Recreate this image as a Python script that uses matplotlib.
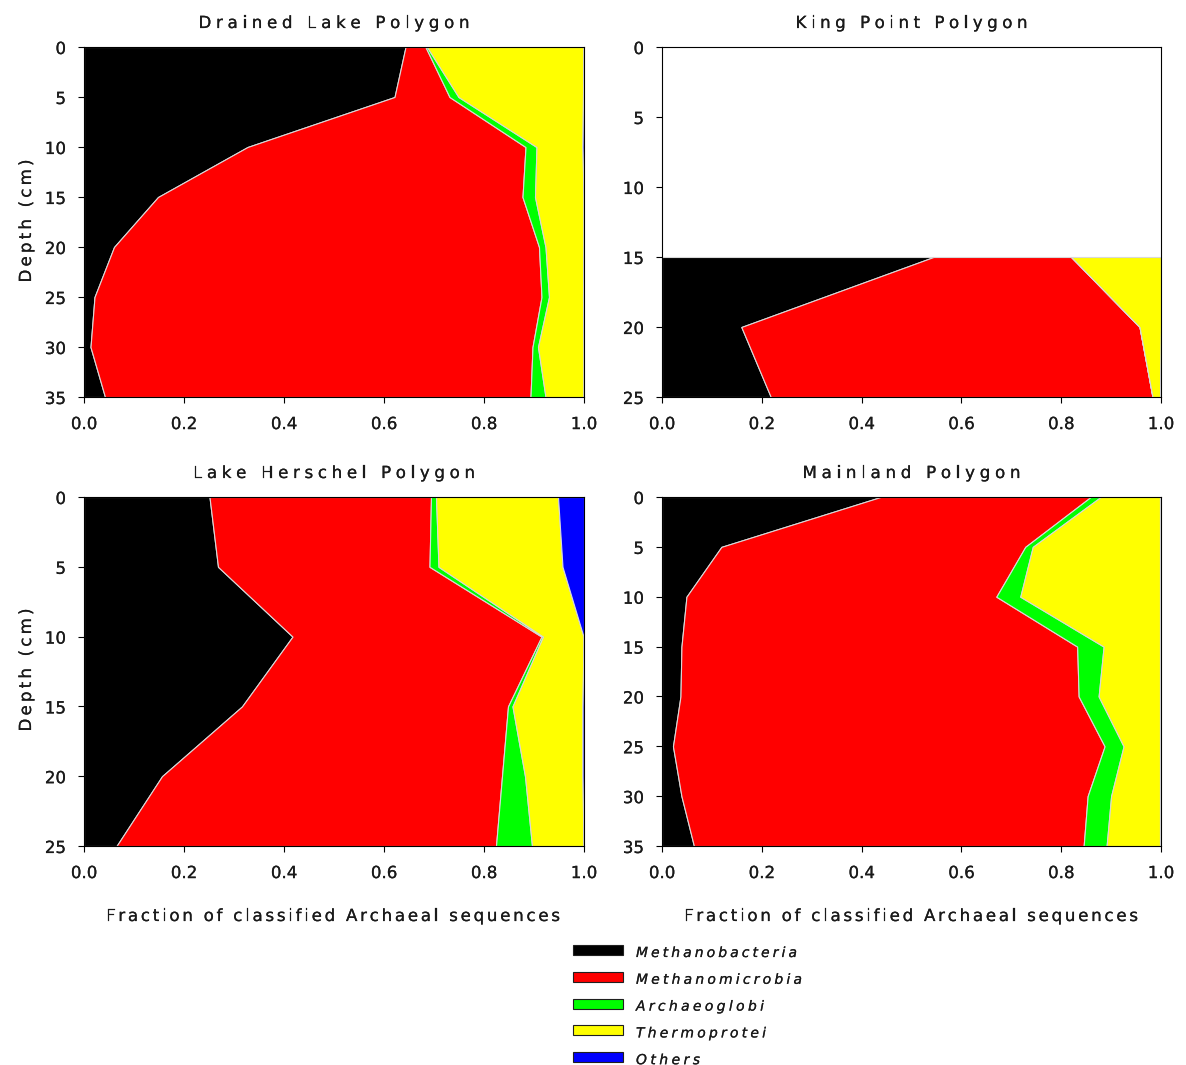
"""Archaeal class composition with depth for four polygon sites."""
import matplotlib
matplotlib.use('Agg')
import matplotlib.pyplot as plt
import matplotlib.patheffects as pe
from matplotlib.patches import Rectangle
from matplotlib.font_manager import FontProperties, findfont, get_font
import numpy as np

W, H, DPI = 1186, 1065, 100
FONT = 'DejaVu Sans'

classes = ['Methanobacteria', 'Methanomicrobia', 'Archaeoglobi', 'Thermoprotei', 'Others']
colors = ['#000000', '#FF0000', '#00FF00', '#FFFF00', '#0000FF']

# fractions per class at each sampled depth (cm)
drained_depth = [0, 5, 10, 15, 20, 25, 30, 35]
drained_methanobacteria = [0.643, 0.621, 0.327, 0.148, 0.060, 0.021, 0.013, 0.042]
drained_methanomicrobia = [0.040, 0.110, 0.556, 0.729, 0.850, 0.894, 0.884, 0.851]
drained_archaeoglobi = [0.003, 0.018, 0.022, 0.025, 0.013, 0.015, 0.011, 0.030]
drained_thermoprotei = [0.313, 0.249, 0.092, 0.097, 0.076, 0.068, 0.091, 0.076]
drained_others = [0.001, 0.002, 0.003, 0.001, 0.001, 0.002, 0.001, 0.001]

king_depth = [15, 20, 25]
king_methanobacteria = [0.544, 0.159, 0.218]
king_methanomicrobia = [0.276, 0.798, 0.765]
king_archaeoglobi = [0.000, 0.000, 0.000]
king_thermoprotei = [0.180, 0.043, 0.015]
king_others = [0.000, 0.000, 0.002]

herschel_depth = [0, 5, 10, 15, 20, 25]
herschel_methanobacteria = [0.251, 0.268, 0.417, 0.316, 0.156, 0.065]
herschel_methanomicrobia = [0.443, 0.423, 0.498, 0.532, 0.680, 0.759]
herschel_archaeoglobi = [0.010, 0.018, 0.003, 0.009, 0.046, 0.072]
herschel_thermoprotei = [0.244, 0.248, 0.081, 0.140, 0.115, 0.103]
herschel_others = [0.052, 0.043, 0.001, 0.003, 0.003, 0.001]

mainland_depth = [0, 5, 10, 15, 20, 25, 30, 35]
mainland_methanobacteria = [0.438, 0.119, 0.049, 0.039, 0.037, 0.022, 0.039, 0.064]
mainland_methanomicrobia = [0.421, 0.609, 0.621, 0.793, 0.798, 0.865, 0.814, 0.781]
mainland_archaeoglobi = [0.020, 0.015, 0.048, 0.053, 0.040, 0.038, 0.047, 0.046]
mainland_thermoprotei = [0.119, 0.255, 0.280, 0.113, 0.123, 0.073, 0.098, 0.107]
mainland_others = [0.002, 0.002, 0.002, 0.002, 0.002, 0.002, 0.002, 0.002]

panels = [
    ('Drained Lake Polygon', drained_depth,
     [drained_methanobacteria, drained_methanomicrobia, drained_archaeoglobi,
      drained_thermoprotei, drained_others], 35),
    ('King Point Polygon', king_depth,
     [king_methanobacteria, king_methanomicrobia, king_archaeoglobi,
      king_thermoprotei, king_others], 25),
    ('Lake Herschel Polygon', herschel_depth,
     [herschel_methanobacteria, herschel_methanomicrobia, herschel_archaeoglobi,
      herschel_thermoprotei, herschel_others], 25),
    ('Mainland Polygon', mainland_depth,
     [mainland_methanobacteria, mainland_methanomicrobia, mainland_archaeoglobi,
      mainland_thermoprotei, mainland_others], 35),
]

plt.rcParams['font.family'] = [FONT]

# slightly heavier glyphs
heavy = [pe.withStroke(linewidth=0.15, foreground='#1a1a1a')]

fig = plt.figure(figsize=(W / DPI, H / DPI), dpi=DPI)


def advances(s, prop):
    font = get_font(findfont(prop))
    font.set_size(prop.get_size_in_points(), DPI)
    return [font.load_char(ord(c)).linearHoriAdvance / 65536 for c in s]


def spaced_text(x, y, s, size, width, rotation=0, style='normal', align='center'):
    """Letter-spaced text; x, y in pixels from top-left (baseline), width = total span."""
    prop = FontProperties(family=FONT, size=size, style=style)
    adv = advances(s, prop)
    gap = (width - sum(adv)) / (len(s) - 1)
    pos = -width / 2 if align == 'center' else 0
    for c, a in zip(s, adv):
        if rotation == 0:
            fig.text((x + pos) / W, 1 - y / H, c, fontproperties=prop,
                     ha='left', va='baseline', color='#1a1a1a', path_effects=heavy)
        else:
            fig.text(x / W, 1 - (y - pos) / H, c, fontproperties=prop,
                     ha='left', va='baseline', rotation=90, rotation_mode='anchor',
                     color='#1a1a1a', path_effects=heavy)
        pos += a + gap


# axes boxes in pixels: left, top, right, bottom
boxes = [(84, 47, 584, 397), (662, 47, 1161, 397),
         (84, 497, 584, 846), (662, 497, 1161, 846)]
title_width = {'Drained Lake Polygon': 271, 'King Point Polygon': 232,
               'Lake Herschel Polygon': 282, 'Mainland Polygon': 218}

for (title, depth, fracs, dmax), (l, t, r, b) in zip(panels, boxes):
    ax = fig.add_axes([l / W, 1 - b / H, (r - l) / W, (b - t) / H])
    cum = np.zeros(len(depth))
    for vals, col in zip(fracs, colors):
        top = cum + np.array(vals)
        ax.fill_betweenx(depth, cum, top, facecolor=col, edgecolor='#d8d8d8',
                         linewidth=0.8)
        cum = top
    ax.set_xlim(0, 1)
    ax.set_ylim(dmax, 0)
    ax.set_xticks(np.arange(0, 1.01, 0.2))
    ax.set_xticklabels([f'{v:.1f}' for v in np.arange(0, 1.01, 0.2)])
    ax.set_yticks(np.arange(0, dmax + 1, 5))
    ax.tick_params(direction='out', length=4, width=0.8, pad=9, labelsize=12,
                   labelcolor='#1a1a1a', top=False, right=False)
    for lab in ax.get_xticklabels() + ax.get_yticklabels():
        lab.set_path_effects(heavy)
    for sp in ax.spines.values():
        sp.set_linewidth(0.8)
    spaced_text((l + r) / 2, t - 19, title, 12, title_width[title])

# axis labels
spaced_text(31, 221, 'Depth (cm)', 12, 123, rotation=90)
spaced_text(31, 670, 'Depth (cm)', 12, 123, rotation=90)
spaced_text(333, 921, 'Fraction of classified Archaeal sequences', 12, 454)
spaced_text(911, 921, 'Fraction of classified Archaeal sequences', 12, 454)

# legend
leg_width = {'Methanobacteria': 161, 'Methanomicrobia': 166, 'Archaeoglobi': 128,
             'Thermoprotei': 130, 'Others': 64}
for i, (name, col) in enumerate(zip(classes, colors)):
    yc = 950 + i * 26.8
    fig.patches.append(Rectangle((573 / W, 1 - (yc + 5) / H), 50 / W, 10 / H,
                                 transform=fig.transFigure, facecolor=col,
                                 edgecolor='#202020', linewidth=0.8))
    spaced_text(636, yc + 7, name, 10, leg_width[name], style='italic', align='left')

fig.savefig('out.png', dpi=DPI)
